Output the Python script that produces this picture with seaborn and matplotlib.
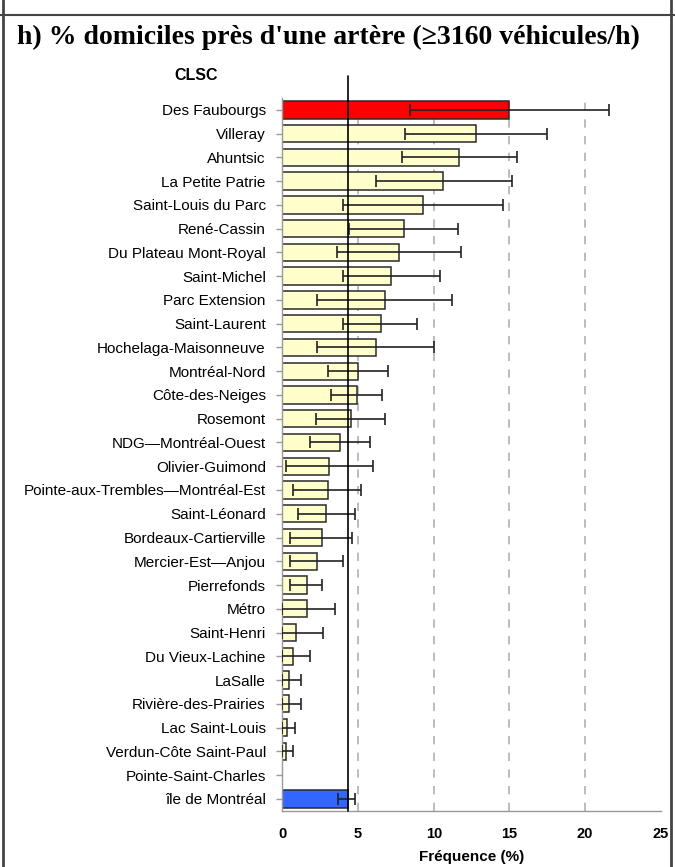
import numpy as np
import pandas as pd
import seaborn as sns
import matplotlib
matplotlib.use("Agg")
import matplotlib.pyplot as plt
from matplotlib.lines import Line2D

# CLSC territories, share of homes near a major artery (%), with confidence bounds
clsc = [
    "Des Faubourgs", "Villeray", "Ahuntsic", "La Petite Patrie", "Saint-Louis du Parc",
    "René-Cassin", "Du Plateau Mont-Royal", "Saint-Michel", "Parc Extension", "Saint-Laurent",
    "Hochelaga-Maisonneuve", "Montréal-Nord", "Côte-des-Neiges", "Rosemont",
    "NDG—Montréal-Ouest", "Olivier-Guimond", "Pointe-aux-Trembles—Montréal-Est",
    "Saint-Léonard", "Bordeaux-Cartierville", "Mercier-Est—Anjou", "Pierrefonds", "Métro",
    "Saint-Henri", "Du Vieux-Lachine", "LaSalle", "Rivière-des-Prairies", "Lac Saint-Louis",
    "Verdun-Côte Saint-Paul", "Pointe-Saint-Charles", "île de Montréal",
]
freq = [15.0, 12.8, 11.7, 10.6, 9.3, 8.0, 7.7, 7.2, 6.8, 6.5,
        6.2, 5.0, 4.9, 4.5, 3.8, 3.1, 3.0, 2.9, 2.6, 2.3,
        1.6, 1.6, 0.9, 0.7, 0.4, 0.4, 0.3, 0.2, 0.0, 4.3]
ci_low = [8.4, 8.1, 7.9, 6.2, 4.0, 4.4, 3.6, 4.0, 2.3, 4.0,
          2.3, 3.0, 3.2, 2.2, 1.8, 0.2, 0.7, 1.0, 0.5, 0.5,
          0.5, 0.0, 0.0, 0.0, 0.0, 0.0, 0.0, 0.0, 0.0, 3.7]
ci_high = [21.6, 17.5, 15.5, 15.2, 14.6, 11.6, 11.8, 10.4, 11.2, 8.9,
           10.0, 7.0, 6.6, 6.8, 5.8, 6.0, 5.2, 4.8, 4.6, 4.0,
           2.6, 3.5, 2.7, 1.8, 1.2, 1.2, 0.8, 0.7, 0.0, 4.8]

highlight = "Des Faubourgs"
reference = "île de Montréal"

df = pd.DataFrame({"clsc": clsc, "freq": freq, "lo": ci_low, "hi": ci_high})
colors = {c: ("#FF0000" if c == highlight else "#3366FF" if c == reference else "#FFFFCC")
          for c in clsc}

sns.set_theme(style="white")
plt.rcParams["font.family"] = ["Liberation Sans", "DejaVu Sans"]
plt.rcParams["text.color"] = "black"
plt.rcParams["xtick.labelcolor"] = "black"
plt.rcParams["ytick.labelcolor"] = "black"
plt.rcParams["axes.labelcolor"] = "black"

fig = plt.figure(figsize=(6.75, 8.67), dpi=100)
ax = fig.add_axes([0.4185, 0.0649, 0.5603, 0.8221])

sns.barplot(data=df, x="freq", y="clsc", hue="clsc", palette=colors, legend=False,
            orient="h", width=0.73, saturation=1, edgecolor="#2a2a2a", linewidth=1.1,
            ax=ax, zorder=2)

ypos = np.arange(len(clsc))
xerr = np.vstack([df["freq"] - df["lo"], df["hi"] - df["freq"]])
mask = df["freq"] > 0
ax.errorbar(df["freq"][mask], ypos[mask], xerr=xerr[:, mask.values], fmt="none",
            ecolor="#222222", elinewidth=1.2, capsize=4, capthick=1.2, zorder=3)

# island-wide reference line
island = df.loc[df["clsc"] == reference, "freq"].iloc[0]
ax.plot([island, island], [len(clsc) - 0.5, -1.43], color="black", lw=1.2,
        clip_on=False, zorder=4)

ax.set_xlim(0, 25)
ax.set_ylim(len(clsc) - 0.5, -0.5)
ax.set_xticks([0, 5, 10, 15, 20, 25])
for g in [5, 10, 15, 20]:
    ax.axvline(g, color="#b0b0b0", lw=1.2, ls=(0, (5, 5)), zorder=1)

for s in ["top", "right"]:
    ax.spines[s].set_visible(False)
for s in ["left", "bottom"]:
    ax.spines[s].set_color("#999999")
    ax.spines[s].set_linewidth(1.0)

ax.tick_params(axis="x", direction="in", length=4, color="#999999", width=1,
               labelsize=10.5, pad=12)
ax.tick_params(axis="y", direction="out", length=4, color="#999999", width=1,
               labelsize=11, pad=8, left=True)
for lab in ax.get_xticklabels():
    lab.set_fontweight("bold")
ax.set_ylabel("")
ax.set_xlabel("Fréquence (%)", fontsize=11, fontweight="bold", labelpad=6)

fig.text(196 / 675, 1 - 75 / 867, "CLSC", fontsize=11.5, fontweight="bold",
         ha="center", va="center")
fig.text(328 / 675, 1 - 37 / 867, "h) % domiciles près d'une artère (≥3160 véhicules/h)",
         fontsize=20, fontweight="bold", ha="center", va="center",
         family=["Liberation Serif", "DejaVu Serif"])

# panel frame
fig.add_artist(Line2D([3 / 675, 3 / 675], [0, 1], color="#444444", lw=2))
fig.add_artist(Line2D([671 / 675, 671 / 675], [0, 1], color="#444444", lw=2))
fig.add_artist(Line2D([0, 1], [1 - 15 / 867, 1 - 15 / 867], color="#444444", lw=1.5))

fig.savefig("out.png", dpi=100)
